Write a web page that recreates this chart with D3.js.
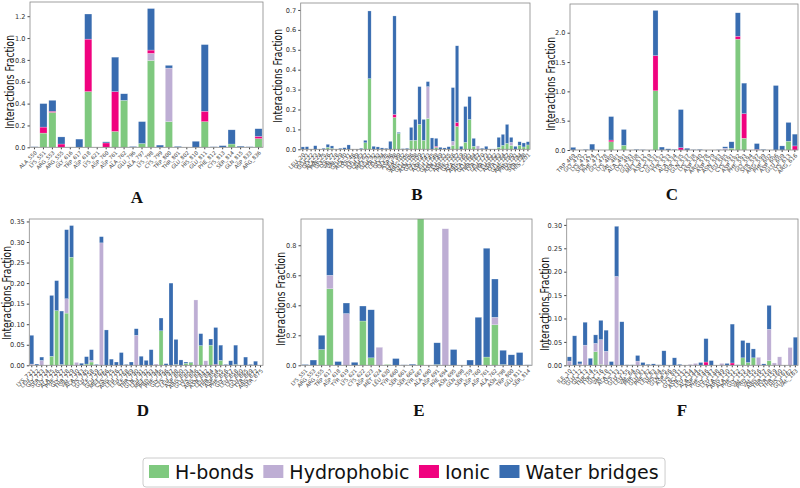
<!DOCTYPE html>
<html>
<head>
<meta charset="utf-8">
<script src="https://cdn.jsdelivr.net/npm/d3@7"></script>
<style>
  body { margin: 0; background: #fff; }
</style>
</head>
<body>
<div class="figure"></div>
<script>
// series order, bottom to top
var keys = ["hb", "hy", "io", "wb"];
var legendNames = ["H-bonds", "Hydrophobic", "Ionic", "Water bridges"];

// --- panel A
var aLabels = ["ALA_550","LYS_551","ARG_553","ARG_555","GLY_616","TRP_617","ASP_618","LYS_621","ASP_760","ASP_761","ALA_762","GLU_796","ALA_797","LYS_798","CYS_799","TRP_800","THR_801","GLU_802","HIS_810","GLU_811","PHE_812","CYS_813","SER_814","GLN_815","ASP_833","ARG_836"];
var aHb = [0,0.13,0.32,0,0,0,0.51,0,0,0.145,0.43,0,0.035,0.795,0,0.235,0,0,0,0.235,0,0,0.03,0,0,0.08];
var aHy = [0,0,0,0,0,0,0,0,0,0,0,0,0,0.065,0,0.49,0,0,0,0,0,0,0,0,0,0];
var aIo = [0,0.055,0.01,0.03,0,0,0.48,0,0.04,0.365,0,0,0,0.03,0,0,0,0,0,0.095,0,0,0,0,0,0.02];
var aWb = [0.005,0.215,0.10,0.065,0,0.075,0.23,0,0.01,0.315,0.06,0.007,0.2,0.38,0.02,0.025,0.008,0,0.055,0.61,0.005,0.015,0.13,0.01,0.005,0.07];
var aTicks = [0,0.2,0.4,0.6,0.8,1.0,1.2];

// --- panel B
var bLabels = ["LEU_20","GLY_21","GLU_22","GLY_23","ALA_24","PHE_25","GLY_26","LYS_27","VAL_28","VAL_29","GLU_30","ALA_31","LYS_46","ILE_49","GLU_63","LEU_67","MET_91","GLU_92","TYR_93","LEU_94","GLY_95","GLY_96","ASP_98","LEU_99","SER_102","ARG_105","GLU_106","ASN_108","GLY_109","LYS_142","ASP_143","LEU_145","GLU_148","ASN_149","LEU_151","ASP_155","PHE_156","GLY_157","ALA_159","ARG_160","ALA_161","GLU_164","THR_167","TYR_170","LEU_173","THR_181","LEU_182","ASP_183","TYR_184","GLU_187","ARG_190","PRO_191","LYS_194","SER_198","HIS_201"];
var bHb = [0,0,0,0,0,0,0.01,0.005,0,0,0,0,0,0,0,0.033,0.355,0,0,0,0,0,0.16,0.08,0,0,0.045,0.045,0.125,0.045,0.155,0,0.01,0,0,0,0.02,0.115,0,0.035,0.15,0.015,0,0,0,0,0,0.01,0.02,0.03,0.02,0,0.02,0.012,0.022];
var bHy = [0,0,0,0,0,0,0,0,0,0,0,0,0,0,0,0,0,0,0,0,0,0,0,0,0,0,0,0,0,0,0.16,0,0,0,0,0,0.02,0,0,0,0,0,0.017,0,0,0,0,0,0,0,0.015,0,0,0,0];
var bIo = [0,0,0,0,0,0,0,0,0,0,0,0,0,0,0,0,0,0,0,0,0,0,0.015,0,0,0,0,0,0,0,0,0,0.005,0,0,0,0,0.02,0,0,0,0,0,0,0,0,0,0,0,0,0,0,0,0,0];
var bWb = [0.012,0.013,0,0.018,0,0.005,0.015,0.012,0,0.005,0.008,0.022,0,0,0.005,0.012,0.34,0.015,0.012,0.007,0.005,0.04,0.495,0.005,0.003,0.005,0.065,0.105,0.19,0.105,0.025,0.057,0.04,0.01,0.007,0.013,0.27,0.385,0.015,0.18,0.115,0.04,0,0.005,0.015,0,0,0.05,0.055,0.095,0.025,0.015,0.018,0.02,0.016];
var bTicks = [0,0.1,0.2,0.3,0.4,0.5,0.6,0.7];

// --- panel C
var cLabels = ["TRP_469","GLY_470","LYS_472","SER_474","PHE_477","GLY_478","LYS_480","VAL_481","ALA_491","LYS_493","GLU_508","MET_512","ASP_519","CYS_531","GLU_532","TYR_533","ALA_534","SER_535","GLN_537","LYS_538","ASP_540","ARG_578","ASP_579","ASN_583","LEU_585","CYS_591","ASP_592","PHE_593","GLY_594","SER_597","ARG_599","PHE_602","ASP_606","GLU_609","LYS_613","ARG_616"];
var cHb = [0,0,0,0,0,0,0.14,0,0.08,0,0,0,0,1.01,0,0,0,0,0,0,0,0,0,0,0,0.03,1.89,0.2,0,0,0,0,0,0,0.15,0];
var cHy = [0,0,0,0,0,0,0,0,0,0,0,0,0,0,0,0,0,0,0,0,0,0,0,0,0.03,0,0,0,0,0,0,0,0,0,0,0];
var cIo = [0,0,0,0,0,0,0.03,0,0,0,0,0,0,0.6,0,0,0,0.04,0,0,0,0,0,0,0,0,0.05,0.42,0,0.01,0,0,0,0,0,0.07];
var cWb = [0.045,0,0.01,0.1,0,0,0.40,0,0.27,0,0.01,0.005,0,0.77,0.05,0.02,0.01,0.65,0.03,0.005,0.01,0,0,0.005,0.025,0.11,0.40,0.52,0,0.10,0.01,0,1.1,0.07,0.32,0.20];
var cTicks = [0,0.5,1.0,1.5,2.0];

// --- panel D
var dLabels = ["LYS_721","LEU_722","GLY_723","SER_724","GLY_725","ALA_726","PHE_727","GLY_728","THR_729","VAL_730","ALA_743","LYS_745","GLU_758","ILE_759","GLU_762","MET_766","CYS_775","ARG_776","LEU_777","LEU_788","ILE_789","THR_790","GLN_791","LEU_792","MET_793","PRO_794","PHE_795","GLY_796","CYS_797","LEU_798","ASP_800","ARG_803","GLU_804","LYS_806","ARG_841","ASN_842","LEU_844","THR_854","ASP_855","PHE_856","GLY_857","LEU_858","LYS_860","GLU_865","TYR_869","ARG_872","SER_875"];
var dHb = [0,0,0,0,0.022,0.133,0.002,0.127,0.263,0,0,0.003,0.008,0,0,0,0,0,0,0,0,0,0,0,0,0,0.084,0,0,0.002,0,0.005,0.007,0,0.048,0,0.049,0,0.012,0,0,0.002,0,0,0,0,0];
var dHy = [0.003,0,0.012,0,0,0,0,0.035,0,0.007,0,0,0.004,0,0.298,0,0,0,0,0,0,0.073,0,0,0,0.003,0,0,0,0,0,0,0,0.159,0,0.011,0,0,0,0,0,0,0,0,0,0,0];
var dIo = [0,0,0,0,0,0,0,0,0,0,0,0,0,0,0,0,0,0,0,0,0,0,0,0,0,0,0,0,0,0,0,0,0,0,0,0,0,0.002,0,0,0,0,0,0,0,0,0];
var dWb = [0.07,0.003,0.008,0,0.148,0.073,0.13,0.168,0.077,0,0.005,0.018,0.026,0.002,0.015,0.086,0.015,0.008,0.031,0.002,0.008,0.016,0.022,0.012,0.038,0,0.031,0.004,0.2,0.061,0.013,0.003,0.001,0,0.029,0,0.015,0.09,0.037,0.002,0.011,0.047,0,0.02,0.002,0.01,0];
var dTicks = [0,0.05,0.10,0.15,0.20,0.25,0.30,0.35];

// --- panel E
var eLabels = ["LYS_551","ARG_553","ARG_555","TRP_617","ASP_618","TYR_619","LYS_621","CYS_622","ASP_623","MET_624","LEU_630","TYR_660","SER_661","SER_662","TYR_687","ALA_690","ASP_691","PHE_694","ASN_695","GLN_698","SER_759","ASP_760","ASP_761","ALA_762","ASN_798","TRP_800","GLU_811","SER_814"];
var eHb = [0,0,0.105,0.51,0,0,0,0.295,0.05,0,0.005,0,0,0,1.0,0,0.005,0,0,0,0,0,0.055,0.27,0.005,0,0,0];
var eHy = [0,0,0,0.09,0,0.345,0,0,0,0.12,0,0,0,0,0,0,0,0.91,0,0,0,0,0,0.05,0,0,0,0];
var eIo = [0,0,0,0,0,0,0,0,0,0,0,0,0,0,0,0,0,0,0,0,0,0,0,0,0,0,0,0];
var eWb = [0.005,0.035,0.095,0.31,0.025,0.07,0.02,0.10,0.32,0,0,0.045,0.003,0.007,0,0,0.145,0,0.105,0,0.035,0.32,0.725,0.255,0.095,0.07,0.085,0.003];
var eTicks = [0,0.2,0.4,0.6,0.8];

// --- panel F
var fLabels = ["ILE_10","GLY_11","GLU_12","GLY_13","THR_14","TYR_15","GLY_16","VAL_18","ALA_31","LYS_33","GLU_51","LEU_55","VAL_64","PHE_80","GLU_81","PHE_82","LEU_83","HIS_84","GLN_85","ASP_86","LYS_89","GLN_131","ASN_132","LEU_134","ALA_144","ASP_145","PHE_146","GLY_147","LEU_148","ALA_149","ARG_150","ALA_151","PHE_152","GLY_153","VAL_154","PRO_155","VAL_156","ARG_157","THR_158","TYR_159","THR_160","HIS_161","GLU_162","VAL_163"];
var fHb = [0,0,0,0,0,0.029,0.002,0,0,0,0,0,0,0,0,0,0,0,0,0,0,0,0,0,0,0,0,0,0,0,0,0,0,0.016,0.006,0.016,0,0,0.01,0,0,0,0,0];
var fHy = [0.009,0,0.003,0.043,0,0.018,0.053,0.03,0,0.19,0,0,0,0.009,0,0,0,0,0,0,0,0,0,0.002,0.004,0,0,0,0,0.004,0,0,0,0,0,0,0.017,0,0.067,0.005,0.018,0,0.038,0];
var fIo = [0,0,0,0,0,0,0,0,0,0,0,0,0,0,0,0,0,0,0,0,0,0,0,0,0,0,0.007,0,0,0,0,0.005,0,0,0,0,0,0,0,0,0,0,0,0];
var fWb = [0.009,0.063,0.005,0.049,0.015,0.018,0.041,0.045,0.008,0.107,0.093,0.001,0.001,0.012,0.006,0.002,0.003,0.001,0.031,0,0.016,0.002,0,0,0,0.006,0.05,0.01,0,0,0.004,0.083,0.001,0.037,0.042,0.019,0,0.003,0.051,0,0,0,0,0.06];
var fTicks = [0,0.05,0.10,0.15,0.20,0.25,0.30];

var colors = { hb: "#7fc97f", hy: "#beaed4", io: "#f0027f", wb: "#386cb0" };
var sans = "'DejaVu Sans', sans-serif";

// layout of the six subplots (plot area boxes in page pixels)
var panels = [
  { name: "A", labels: aLabels, hb: aHb, hy: aHy, io: aIo, wb: aWb, ticks: aTicks, fmt: ".1f", ymax: 1.33,
    box: [30, 2, 263, 147.3], ylab: [9.5, 82], letter: [137, 203], xfont: 5.2 },
  { name: "B", labels: bLabels, hb: bHb, hy: bHy, io: bIo, wb: bWb, ticks: bTicks, fmt: ".1f", ymax: 0.735,
    box: [300.7, 3, 530, 149.3], ylab: [277.5, 76], letter: [417, 200], xfont: 5.6 },
  { name: "C", labels: cLabels, hb: cHb, hy: cHy, io: cIo, wb: cWb, ticks: cTicks, fmt: ".1f", ymax: 2.49,
    box: [570, 4, 798, 150], ylab: [550.7, 84], letter: [672, 200], xfont: 5.6 },
  { name: "D", labels: dLabels, hb: dHb, hy: dHy, io: dIo, wb: dWb, ticks: dTicks, fmt: ".2f", ymax: 0.356,
    box: [29.3, 219, 263, 365.3], ylab: [6.5, 293], letter: [143, 416], xfont: 5.6 },
  { name: "E", labels: eLabels, hb: eHb, hy: eHy, io: eIo, wb: eWb, ticks: eTicks, fmt: ".1f", ymax: 0.975,
    box: [301, 219, 532, 365.3], ylab: [280.7, 299], letter: [419, 416], xfont: 5.2 },
  { name: "F", labels: fLabels, hb: fHb, hy: fHy, io: fIo, wb: fWb, ticks: fTicks, fmt: ".2f", ymax: 0.3126,
    box: [566.7, 219, 798, 365.3], ylab: [545, 304], letter: [682, 416], xfont: 5.6 }
];

var svg = d3.select(".figure")
  .append("svg")
  .attr("width", 800)
  .attr("height", 488);

function drawPanel(p, idx) {
  var w = p.box[2] - p.box[0];
  var h = p.box[3] - p.box[1];
  var g = svg.append("g")
    .attr("transform", "translate(" + p.box[0] + "," + p.box[1] + ")");

  var x = d3.scaleBand()
    .domain(p.labels)
    .range([0, w])
    .paddingInner(0.2)
    .paddingOuter(0.1);
  var y = d3.scaleLinear()
    .domain([0, p.ymax])
    .range([h, 0]);

  var rows = p.labels.map(function(l, i) {
    return { label: l, hb: p.hb[i], hy: p.hy[i], io: p.io[i], wb: p.wb[i] };
  });
  var series = d3.stack().keys(keys)(rows);

  g.append("clipPath")
    .attr("id", "clip" + idx)
    .append("rect")
    .attr("width", w)
    .attr("height", h);

  g.append("g")
    .attr("clip-path", "url(#clip" + idx + ")")
    .selectAll("g")
    .data(series)
    .enter()
    .append("g")
    .attr("fill", function(d) { return colors[d.key]; })
    .selectAll("rect")
    .data(function(d) { return d.filter(function(s) { return s[1] - s[0] > 0; }); })
    .enter()
    .append("rect")
    .attr("x", function(d) { return x(d.data.label); })
    .attr("width", x.bandwidth())
    .attr("y", function(d) { return y(d[1]); })
    .attr("height", function(d) { return y(d[0]) - y(d[1]); })
    .attr("stroke", "#ffffff")
    .attr("stroke-opacity", 0.45)
    .attr("stroke-width", 0.5);

  // y axis
  var ya = g.append("g")
    .call(d3.axisLeft(y).tickValues(p.ticks).tickFormat(d3.format(p.fmt)).tickSize(2.5).tickPadding(2));
  ya.select(".domain").remove();
  ya.selectAll("line").attr("stroke", "#444");
  ya.selectAll("text")
    .style("font-family", sans)
    .style("font-size", "6.6px")
    .attr("fill", "#333");

  // x axis, rotated labels
  var xa = g.append("g")
    .attr("transform", "translate(0," + h + ")")
    .call(d3.axisBottom(x).tickSize(2));
  xa.select(".domain").remove();
  xa.selectAll("line").attr("stroke", "#444");
  xa.selectAll("text")
    .attr("x", 0)
    .attr("y", 0)
    .attr("dy", "0.35em")
    .attr("transform", "translate(1.5,4.5) rotate(-45)")
    .attr("text-anchor", "end")
    .style("font-family", sans)
    .style("font-size", p.xfont + "px")
    .attr("fill", "#444");

  // frame
  g.append("rect")
    .attr("width", w)
    .attr("height", h)
    .attr("fill", "none")
    .attr("stroke", "#888")
    .attr("stroke-width", 0.8);

  svg.append("text")
    .attr("transform", "translate(" + p.ylab[0] + "," + p.ylab[1] + ") rotate(-90)")
    .attr("text-anchor", "middle")
    .attr("dy", "0.35em")
    .style("font-family", sans)
    .style("font-size", "12px")
    .attr("textLength", 94)
    .attr("lengthAdjust", "spacingAndGlyphs")
    .attr("fill", "#111")
    .text("Interactions  Fraction");

  svg.append("text")
    .attr("x", p.letter[0])
    .attr("y", p.letter[1])
    .attr("text-anchor", "middle")
    .style("font-family", "'Liberation Serif', 'Times New Roman', serif")
    .style("font-weight", "bold")
    .style("font-size", "17px")
    .attr("fill", "#111")
    .text(p.name);
}

panels.forEach(drawPanel);

// legend
var legend = svg.append("g");
var frame = legend.append("rect")
  .attr("y", 458)
  .attr("height", 29)
  .attr("rx", 3)
  .attr("fill", "#fff")
  .attr("stroke", "#ccc")
  .attr("stroke-width", 1);

var lx = 149;
keys.forEach(function(k, i) {
  legend.append("rect")
    .attr("x", lx)
    .attr("y", 465)
    .attr("width", 20)
    .attr("height", 13)
    .attr("fill", colors[k]);
  var t = legend.append("text")
    .attr("x", lx + 26)
    .attr("y", 478.5)
    .style("font-family", sans)
    .style("font-size", "19px")
    .attr("fill", "#111")
    .text(legendNames[i]);
  lx = lx + 26 + t.node().getComputedTextLength() + 9.5;
});
frame.attr("x", 143).attr("width", lx - 143 - 3);
</script>
</body>
</html>
